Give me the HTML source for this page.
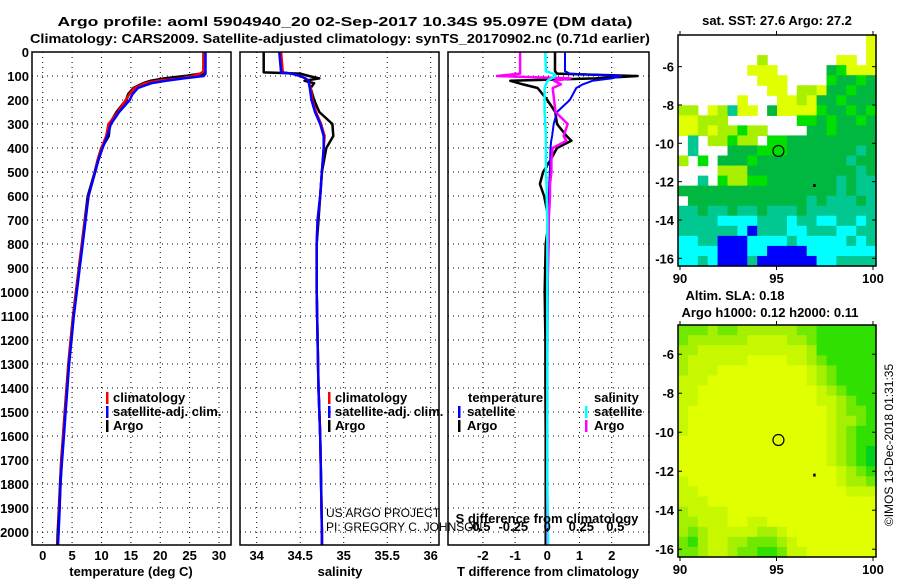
<!DOCTYPE html>
<html><head><meta charset="utf-8"><style>
body{margin:0;background:#fff;}
svg{display:block;font-family:"Liberation Sans",Arial,sans-serif;}
.t{font-weight:bold;font-size:13px;}
.n{font-weight:normal;font-size:12px;}
</style></head><body>
<svg id="c" width="900" height="580" viewBox="0 0 900 580"></svg>
<script>
// ---------- data ----------
const depthT=[0,80,90,100,110,120,130,150,175,200,250,300,350,400,450,500,600,700,800,900,1000,1100,1200,1300,1400,1500,1600,1700,1800,1900,2000,2054];
const tArgo=[27.4,27.4,27.2,24.5,21,18.5,17.2,15.5,14.6,14.2,12.6,11.4,11.2,10.0,9.4,8.9,7.7,7.2,6.7,6.2,5.7,5.2,4.8,4.4,4.1,3.8,3.5,3.2,3.0,2.8,2.6,2.5];
const tClim=[27.4,27.4,26.8,25.5,23.5,19.5,17.5,15.6,14.8,14.1,12.8,11.2,10.8,10.0,9.4,8.9,7.8,7.2,6.7,6.2,5.7,5.2,4.8,4.4,4.1,3.8,3.5,3.2,3.0,2.8,2.7,2.5];
const tSat=[27.7,27.7,27.7,27.4,24.0,21.0,18.5,16.2,15.3,14.8,13.0,11.6,11.0,10.2,9.5,8.9,7.8,7.3,6.8,6.3,5.8,5.3,4.9,4.5,4.2,3.9,3.6,3.3,3.0,2.9,2.7,2.6];
const depthS=[0,85,90,100,110,120,130,150,200,250,300,350,400,500,600,700,800,1000,1200,1400,1600,1800,2000,2054];
const sArgo=[34.08,34.08,34.5,34.6,34.72,34.55,34.66,34.62,34.66,34.72,34.87,34.88,34.80,34.75,34.73,34.71,34.69,34.69,34.70,34.71,34.73,34.74,34.75,34.75];
const sClim=[34.28,34.3,34.4,34.5,34.56,34.6,34.6,34.62,34.64,34.68,34.74,34.78,34.77,34.75,34.73,34.7,34.69,34.69,34.70,34.71,34.73,34.74,34.75,34.75];
const sSat=[34.26,34.28,34.4,34.5,34.56,34.6,34.6,34.61,34.63,34.67,34.73,34.77,34.77,34.75,34.73,34.7,34.69,34.69,34.70,34.71,34.73,34.74,34.75,34.75];
const depthD=[0,80,90,100,110,120,135,150,200,250,300,350,370,400,450,500,550,600,700,800,1000,1200,1400,1600,1800,2000,2054];
const dTArgo=[0.24,0.24,0.3,2.8,1.5,-1.15,-0.75,-0.3,0.0,0.25,0.3,0.6,0.75,0.3,0.1,-0.13,-0.23,-0.1,0.05,-0.05,-0.08,-0.06,-0.06,-0.05,-0.05,-0.05,-0.05];
const dTSat=[0.55,0.55,0.7,2.3,2.0,1.4,1.1,0.9,0.7,0.3,0.2,0.15,0.12,0.1,0.09,0.08,0.06,0.05,0.04,0.03,0.02,0.01,0.0,0.0,0.0,0.0,0.0];
const dSArgo=[-0.2,-0.2,-0.2,-0.37,0.17,0.05,0.1,0.04,0.05,0.06,0.15,0.12,0.14,0.04,0.03,0.03,0.02,0.02,0.01,0.01,0.0,0.0,0.0,0.0,0.0,0.0,0.0];
const dSSat=[-0.015,-0.01,0.04,0.06,0.03,0.0,-0.01,-0.02,-0.02,-0.02,-0.015,-0.01,-0.01,-0.01,-0.01,-0.01,-0.005,-0.005,0,0,0,0,0,0,0,0.005,0.005];
const depthTicks=[0,100,200,300,400,500,600,700,800,900,1000,1100,1200,1300,1400,1500,1600,1700,1800,1900,2000];
const tTicks=[0,5,10,15,20,25,30];
const sTicks=[34,34.5,35,35.5,36];
const dTTicks=[-2,-1,0,1,2];
const dSTicks=[-0.5,-0.25,0,0.25,0.5];
const latTicks=[-6,-8,-10,-12,-14,-16];
const lonTicks=[90,95,100];
const sstRows=[
"WWWWWWWWWWWWWWWWWWWY",
"WWWWWWWWWWWWWWWWWWWY",
"WWWWWWWWLWWWWWWWYYWY",
"WWWWWWWYYYWWWWWDGYYY",
"WWWWWWWWYYYWWWWGDDGD",
"WWWWWWWWWYYWLLYDDGDD",
"WWWWWWYWWWYYLYDDGDDD",
"LLWYLTYYWDYYYYGDDGDG",
"YYLLLWWWWWWWGGDGDDGD",
"YYLYLLGLLWWWWDDGDDDD",
"WTWLLGLLWGGDDDDDDDDD",
"WTWWWDDDGGGDDDDDDDTD",
"LWGWDDDGDDDDDDDDDTDD",
"WWWWLLLDDDDDDDDDDDTD",
"WWTWGLLGGDDDDDDDTDTT",
"DDDDDDDDDDDDDDDDTDTT",
"WDDDDDDDDDDDDTDTTTDT",
"TTDTTDTTDTTTDTTTTTTT",
"TTTTCCCCTTTCTTCCTTCT",
"TTTTTTCBTTTCCTTTCCTT",
"CCTTBBBCCCCTCCCCCTCT",
"CCCCBBBCCBBBBCCCCCCC",
"CCTCBBBTBBBBBBCCTTTT"];
const slaRows=[
"33323322222233444444",
"32222221111223444444",
"22111111111112444444",
"21111110000112344444",
"21110000000001234444",
"11100000000001234444",
"11000000000000123444",
"11000000000000112344",
"10000000000000012334",
"10000000000000012234",
"10000000000000012344",
"00000000000000012344",
"00000000000000012345",
"00000000000000012345",
"00000000000000001234",
"10000000000000001223",
"11000000000000000111",
"11100000000000000000",
"21111000000000000000",
"22111001100000000000",
"23211111221000000000",
"34211223332100000000",
"33211233443110000000"];
const argoPos=[95.1,-10.4];
const dotPos=[96.9,-12.2];

// ---------- drawing ----------
const NS="http://www.w3.org/2000/svg";
const svg=document.getElementById('c');
function el(tag,attrs,parent){const e=document.createElementNS(NS,tag);for(const k in attrs)e.setAttribute(k,attrs[k]);(parent||svg).appendChild(e);return e;}
function txt(x,y,s,cls,anchor,parent){const e=el('text',{x:x,y:y,'text-anchor':anchor||'middle','class':cls||'t'},parent);e.textContent=s;return e;}

const TOP=52,BOT=545;
const yD=d=>TOP+d*0.24;
function panel(name){
  const g=el('g',{});
  
  
  return g;
}
function grid(g,x0,x1,xs,xfn){
  depthTicks.forEach(d=>{el('line',{x1:x0,x2:x1,y1:yD(d),y2:yD(d),stroke:'#000','stroke-width':1,'stroke-dasharray':'1,4'},g);});
  xs.forEach(v=>{const x=xfn(v);el('line',{x1:x,x2:x,y1:TOP,y2:BOT,stroke:'#000','stroke-width':1,'stroke-dasharray':'1,4'},g);});
}
function box(g,x0,x1){el('rect',{x:x0,y:TOP,width:x1-x0,height:BOT-TOP,fill:'none',stroke:'#000','stroke-width':1.5},g);}
function line(g,xs,ds,xfn,color,w,name){
  const pts=xs.map((v,i)=>xfn(v).toFixed(1)+','+yD(ds[i]).toFixed(1)).join(' ');
  const p=el('polyline',{points:pts,fill:'none',stroke:color,'stroke-width':w||2.5,'stroke-linejoin':'round'},g);
  
  
}
function legendTick(g,x,y,color){el('rect',{x:x,y:y-10,width:2.5,height:12,fill:color},g);}

// titles
let t1=txt(345,26,'Argo profile: aoml 5904940_20 02-Sep-2017 10.34S 95.097E (DM data)','t');t1.setAttribute('font-size','15');
t1.setAttribute('textLength','575');t1.setAttribute('lengthAdjust','spacingAndGlyphs');

let t2=txt(340,43,'Climatology: CARS2009. Satellite-adjusted climatology: synTS_20170902.nc (0.71d earlier)','t');t2.setAttribute('font-size','15');
t2.setAttribute('textLength','620');t2.setAttribute('lengthAdjust','spacingAndGlyphs');


// depth labels
const gy=el('g',{});
depthTicks.forEach(d=>txt(29,yD(d)+5,String(d),'t','end',gy));

// panel 1 temperature
const xT=v=>42.7+v*5.877;
const g1=panel('temperature-panel');
grid(g1,32,231,tTicks,xT);
line(g1,tArgo,depthT,xT,'#000',3,'argo-temperature-line');
line(g1,tClim,depthT,xT,'#f00',2.5,'climatology-temperature-line');
line(g1,tSat,depthT,xT,'#00f',2.5,'satellite-temperature-line');
box(g1,32,231);
tTicks.forEach(v=>txt(xT(v),560,String(v),'t','middle',g1));
let a1=txt(131,576,'temperature (deg C)','t','middle',g1);
legendTick(g1,106,402,'#f00');txt(113,402,'climatology','t','start',g1);
legendTick(g1,106,416,'#00f');txt(113,416,'satellite-adj. clim.','t','start',g1);
legendTick(g1,106,430,'#000');txt(113,430,'Argo','t','start',g1);

// panel 2 salinity
const xS=v=>256.7+(v-34)*87;
const g2=panel('salinity-panel');
grid(g2,240,439,sTicks,xS);
line(g2,sArgo,depthS,xS,'#000',2.5,'argo-salinity-line');
line(g2,sClim,depthS,xS,'#f00',2.5,'climatology-salinity-line');
line(g2,sSat,depthS,xS,'#00f',2.5,'satellite-salinity-line');
box(g2,240,439);
sTicks.forEach(v=>txt(xS(v),560,String(v),'t','middle',g2));
let a2=txt(340,576,'salinity','t','middle',g2);
legendTick(g2,328,402,'#f00');txt(335,402,'climatology','t','start',g2);
legendTick(g2,328,416,'#00f');txt(335,416,'satellite-adj. clim.','t','start',g2);
legendTick(g2,328,430,'#000');txt(335,430,'Argo','t','start',g2);

// panel 3 differences
const xDT=v=>547.3+v*32.2;
const xDS=v=>547.3+v*136;
const g3=panel('difference-panel');
grid(g3,448,649,dTTicks,xDT);
line(g3,dTArgo,depthD,xDT,'#000',2.5,'argo-t-difference-line');
line(g3,dTSat,depthD,xDT,'#00f',2,'satellite-t-difference-line');
line(g3,dSArgo,depthD,xDS,'#f0f',2.5,'argo-s-difference-line');
line(g3,dSSat,depthD,xDS,'#0ff',2.5,'satellite-s-difference-line');
box(g3,448,649);
dTTicks.forEach(v=>txt(xDT(v),560,String(v),'t','middle',g3));
dSTicks.forEach(v=>{const x=xDS(v);el('line',{x1:x,x2:x,y1:528,y2:532,stroke:'#000'},g3);txt(x,531,String(v),'t','middle',g3);});
txt(547,523,'S difference from climatology','t','middle',g3);
let a3=txt(548,576,'T difference from climatology','t','middle',g3);
txt(468,402,'temperature','t','start',g3);
legendTick(g3,458,416,'#00f');txt(467,416,'satellite','t','start',g3);
legendTick(g3,458,430,'#000');txt(467,430,'Argo','t','start',g3);
txt(594,402,'salinity','t','start',g3);
legendTick(g3,585,416,'#0ff');txt(594,416,'satellite','t','start',g3);
legendTick(g3,585,430,'#f0f');txt(594,430,'Argo','t','start',g3);

// credit
const gc=el('g',{});
txt(326,517,'US ARGO PROJECT','n','start',gc);
txt(326,531,'PI: GREGORY C. JOHNSON','n','start',gc);

// maps
const SSTC={Y:'#e0ff00',L:'#a8f000',G:'#00e000',D:'#00b840',T:'#00c890',C:'#00ffff',B:'#0000ff',W:'#ffffff'};
const SLAC=['#e0ff00','#c8f800','#a4f000','#70e800','#30e000','#00d020'];
function map(name,x0,y0,x1,y1,rows,cmap,latTop,latBot){
  const g=el('g',{});
  
  
  const lonX=v=>x0+2+(v-90)*19.3;
  const latY=v=>y0+(latTop-v)/(latTop-latBot)*(y1-y0);
  const nr=rows.length,nc=rows[0].length,cw=(x1-x0)/nc,ch=(y1-y0)/nr;
  rows.forEach((r,i)=>{for(let j=0;j<nc;j++){const c=cmap[r[j]];if(c==='#ffffff')continue;
    el('rect',{x:(x0+j*cw).toFixed(2),y:(y0+i*ch).toFixed(2),width:(cw+0.6).toFixed(2),height:(ch+0.6).toFixed(2),fill:c},g);}});
  el('rect',{x:x0,y:y0,width:x1-x0,height:y1-y0,fill:'none',stroke:'#000','stroke-width':1.5},g);
  latTicks.forEach(v=>{const y=latY(v);el('line',{x1:x0,x2:x0+4,y1:y,y2:y,stroke:'#000'},g);el('line',{x1:x1-4,x2:x1,y1:y,y2:y,stroke:'#000'},g);txt(x0-4,y+5,String(v),'t','end',g);});
  lonTicks.forEach(v=>{const x=lonX(v);el('line',{x1:x,x2:x,y1:y1,y2:y1+4,stroke:'#000'},g);el('line',{x1:x,x2:x,y1:y0-4,y2:y0,stroke:'#000'},g);txt(x,y1+17,String(v),'t','middle',g);});
  const c=el('circle',{cx:lonX(argoPos[0]),cy:latY(argoPos[1]),r:5.5,fill:'none',stroke:'#000','stroke-width':1.2},g);
  
  el('rect',{x:lonX(dotPos[0]),y:latY(dotPos[1])-1.5,width:2.5,height:3,fill:'#000'},g);
}
map('sst-map',678,35,876,266,sstRows,SSTC,-4.35,-16.4);
map('sla-map',678,325,876,557,slaRows,SLAC,-4.5,-16.4);
let m1=txt(777,25,'sat. SST: 27.6 Argo: 27.2','t');
let m2=txt(735,300,'Altim. SLA: 0.18','t');
let m3=txt(770,317,'Argo h1000: 0.12 h2000: 0.11','t');
let cr=txt(0,0,'©IMOS 13-Dec-2018 01:31:35','n','middle');cr.setAttribute('font-size','13');cr.setAttribute('transform','translate(893,445) rotate(-90)');

</script>
</body></html>
